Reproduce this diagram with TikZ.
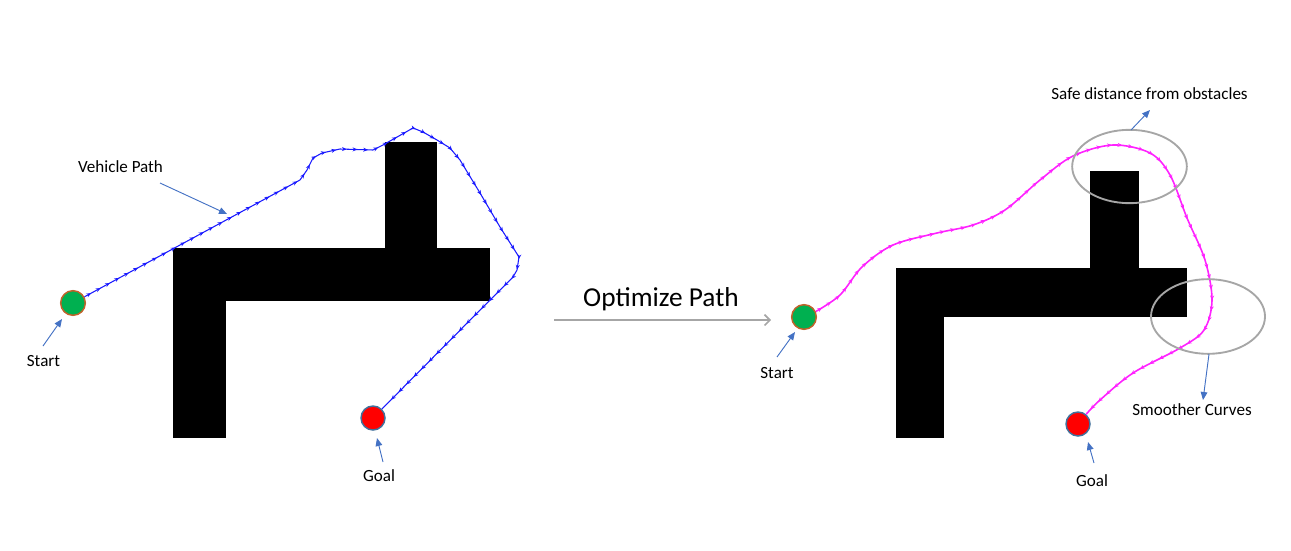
\documentclass[tikz,border=0pt]{standalone}
\usepackage{fontspec}
\setmainfont{Carlito}
\usetikzlibrary{arrows.meta,decorations.markings,shapes.geometric}
\definecolor{callblue}{HTML}{4472C4}
\definecolor{ringgray}{HTML}{A6A6A6}
\definecolor{startgreen}{HTML}{00B050}
\definecolor{startrim}{HTML}{C0622A}
\definecolor{goalrim}{HTML}{41719C}
\definecolor{pathblue}{HTML}{1A1AFF}
\definecolor{pathmag}{HTML}{FF22FF}
\begin{document}
\begin{tikzpicture}[x=0.75pt,y=-0.75pt,
  obstacle/.style={fill=black},
  startpt/.style={circle,fill=startgreen,draw=startrim,line width=1.1pt,minimum size=18.5pt,inner sep=0pt},
  goalpt/.style={circle,fill=red,draw=goalrim,line width=1.1pt,minimum size=18pt,inner sep=0pt},
  lbl/.style={font=\fontsize{12.8}{14}\selectfont,inner sep=0pt},
  biglbl/.style={font=\fontsize{20.5}{23}\selectfont,inner sep=0pt},
  callarrow/.style={draw=callblue,line width=0.7pt,-{Triangle[length=6pt,width=5pt]}},
  optarrow/.style={draw=ringgray,line width=1.2pt,-{Straight Barb[length=4pt,width=8pt]}},
  ring/.style={draw=ringgray,line width=1.4pt},
  marked/.style={decoration={markings,mark=between positions 0.01 and 0.995 step 8pt with {\arrow{Stealth[length=3.6pt,width=3pt]}}},postaction={decorate}},
  vpath/.style={draw=pathblue,line width=0.8pt,marked},
  mpath/.style={draw=pathmag,line width=1.2pt,marked},
]
\useasboundingbox (0,0) rectangle (1291,550);

% ---------- left map ----------
\fill[obstacle] (173,248) rectangle (490,301);
\fill[obstacle] (173,248) rectangle (226,438);
\fill[obstacle] (385,142) rectangle (437,248);

\node[startpt] (ls) at (73,303) {};
\node[goalpt] (lg) at (373,418) {};

\draw[vpath] (ls) -- (300,180) -- (307,170) -- (313,158) -- (322,153) -- (340,149)
  -- (373,150) -- (383,145) -- (413,128) -- (423,132) -- (437,140) -- (450,148)
  -- (460,160) -- (480,193) -- (500,227) -- (519,257) -- (517,270) -- (513,277)
  -- (490,300) -- (lg);

\node[lbl] (vplbl) at (120.5,167) {Vehicle Path};
\coordinate (vpA) at (160,183);
\coordinate (vpB) at (227,214);
\draw[callarrow] (vpA) -- (vpB);

\node[lbl] (lslbl) at (43.5,361) {Start};
\coordinate (lsA) at (43,346);
\coordinate (lsB) at (62,319);
\draw[callarrow] (lsA) -- (lsB);

\node[lbl] (lglbl) at (379,476) {Goal};
\coordinate (lgA) at (383,462);
\coordinate (lgB) at (377,438);
\draw[callarrow] (lgA) -- (lgB);

% ---------- optimize arrow ----------
\node[biglbl] (opt) at (661,299) {Optimize Path};
\coordinate (optA) at (554,320);
\coordinate (optB) at (771,320);
\draw[optarrow] (optA) -- (optB);

% ---------- right map ----------
\fill[obstacle] (896,268) rectangle (1187,317);
\fill[obstacle] (896,268) rectangle (944,438);
\fill[obstacle] (1090,171) rectangle (1139,268);

\node[startpt] (rs) at (804,317) {};
\node[goalpt] (rg) at (1078,424) {};

\draw[mpath] plot[smooth,tension=0.55] coordinates {(rs.25) (840,295) (862,267)
  (893,245) (937,233) (973,225) (1005,210) (1040,180) (1073,156) (1113,145)
  (1150,153) (1170,175) (1187,218) (1205,260) (1212,300) (1204,330) (1180,348)
  (1133,373) (1100,400) (rg.50)};

\node[ring,ellipse,minimum width=86pt,minimum height=55pt,inner sep=0pt] (ring1) at (1129.5,166.5) {};
\node[ring,ellipse,minimum width=85.5pt,minimum height=56pt,inner sep=0pt] (ring2) at (1208,316.5) {};

\node[lbl] (safelbl) at (1149.5,94) {Safe distance from obstacles};
\coordinate (sfA) at (1131,130);
\coordinate (sfB) at (1150,110);
\draw[callarrow] (sfA) -- (sfB);

\node[lbl] (smlbl) at (1192,410) {Smoother Curves};
\coordinate (smA) at (1209,354);
\coordinate (smB) at (1203,400);
\draw[callarrow] (smA) -- (smB);

\node[lbl] (rslbl) at (777,373) {Start};
\coordinate (rsA) at (777,357);
\coordinate (rsB) at (795,332);
\draw[callarrow] (rsA) -- (rsB);

\node[lbl] (rglbl) at (1092,481) {Goal};
\coordinate (rgA) at (1094,463);
\coordinate (rgB) at (1088,442);
\draw[callarrow] (rgA) -- (rgB);
\end{tikzpicture}
\end{document}
